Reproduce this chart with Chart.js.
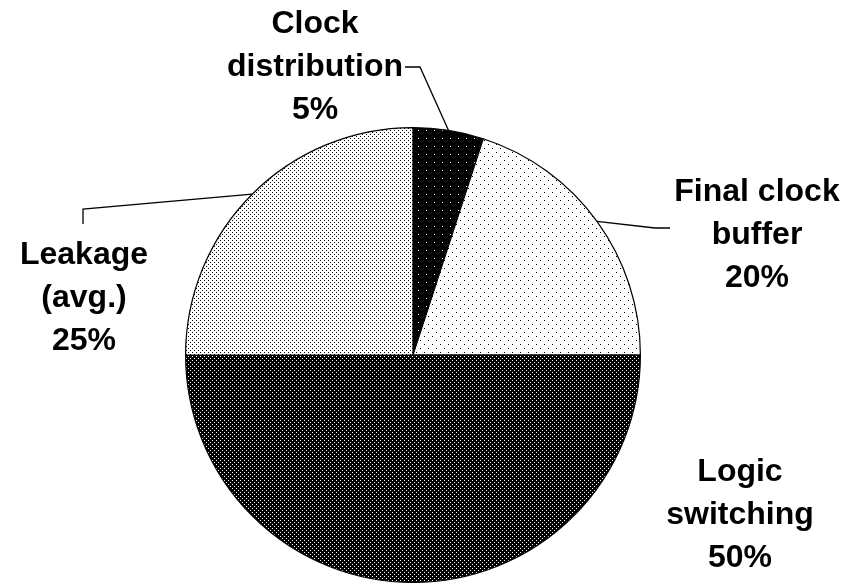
<!DOCTYPE html>
<html>
<head>
<meta charset="utf-8">
<script src="https://cdn.jsdelivr.net/npm/chart.js@4"></script>
<style>
  html, body { margin: 0; padding: 0; background: #fff; }
  #wrap { width: 859px; height: 583px; }
</style>
</head>
<body>
<div id="wrap"><canvas id="powerPie"></canvas></div>
<script>
// clock power breakdown (percent)
const categories = ['Clock distribution', 'Final clock buffer', 'Logic switching', 'Leakage (avg.)'];
const shares = [5, 20, 50, 25];
const labelLines = [
    ['Clock', 'distribution', '5%'],
    ['Final clock', 'buffer', '20%'],
    ['Logic', 'switching', '50%'],
    ['Leakage', '(avg.)', '25%']
];

// dotted fills, built as small tiles
function dots(size, bg, fg, pts) {
    const c = document.createElement('canvas');
    c.width = size; c.height = size;
    const g = c.getContext('2d');
    g.fillStyle = bg;
    g.fillRect(0, 0, size, size);
    g.fillStyle = fg;
    pts.forEach(p => g.fillRect(p[0], p[1], 1, 1));
    return g.createPattern(c, 'repeat');
}
const ctx = document.getElementById('powerPie').getContext('2d');
const fills = [
    dots(8, '#000', '#fff', [[2, 2]]),
    dots(8, '#fff', '#000', [[0, 0], [4, 4]]),
    dots(4, '#000', '#fff', [[0, 0], [2, 2]]),
    dots(4, '#fff', '#000', [[0, 0], [2, 2]])
];

// text block centres and leader elbows per slice
const labelPos = [
    { x: 315, y: 24, leader: [[420, 67], [405, 67]] },
    { x: 757, y: 192, leader: [[655, 228], [670, 228]] },
    { x: 740, y: 472, leader: null },
    { x: 84, y: 255, leader: [[83, 209], [83, 224]] }
];

const calloutPlugin = {
    id: 'callouts',
    afterDraw(chart) {
        const c = chart.ctx;
        const arcs = chart.getDatasetMeta(0).data;
        c.save();
        c.strokeStyle = '#000';
        c.lineWidth = 1.3;
        arcs.forEach((arc, i) => {
            const pos = labelPos[i];
            if (!pos.leader) return;
            const mid = (arc.startAngle + arc.endAngle) / 2;
            c.beginPath();
            c.moveTo(arc.x + Math.cos(mid) * arc.outerRadius, arc.y + Math.sin(mid) * arc.outerRadius);
            pos.leader.forEach(p => c.lineTo(p[0], p[1]));
            c.stroke();
        });
        c.fillStyle = '#000';
        c.font = 'bold 32px "Liberation Sans", Arial, sans-serif';
        c.textAlign = 'center';
        c.textBaseline = 'middle';
        labelLines.forEach((lines, i) => {
            const pos = labelPos[i];
            lines.forEach((t, k) => c.fillText(t, pos.x, pos.y + k * 43));
        });
        c.restore();
    }
};

new Chart(ctx, {
    type: 'pie',
    data: {
        labels: categories,
        datasets: [{
            data: shares,
            backgroundColor: fills,
            borderColor: '#000',
            borderWidth: 1.2
        }]
    },
    options: {
        responsive: true,
        maintainAspectRatio: false,
        animation: false,
        layout: { padding: { top: 127, bottom: 0, left: 185, right: 218 } },
        plugins: {
            legend: { display: false },
            tooltip: { enabled: false }
        }
    },
    plugins: [calloutPlugin]
});
</script>
</body>
</html>
